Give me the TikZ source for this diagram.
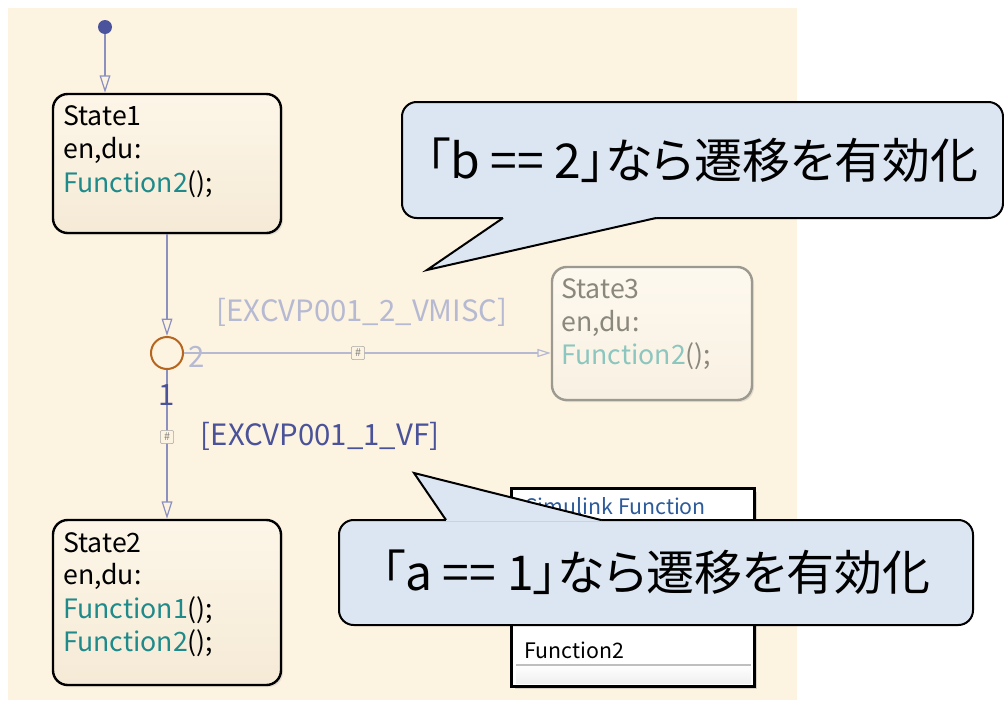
\documentclass[tikz,border=0pt]{standalone}
\usepackage{fontspec}
\setmainfont{Noto Sans CJK JP}
\usepackage{xcolor}
\usepackage{tikz}
\usetikzlibrary{arrows.meta}
\usetikzlibrary{shadows}
\definecolor{bgcream}{HTML}{FDF3E1}
\definecolor{sttop}{HTML}{FDF6E8}
\definecolor{stbot}{HTML}{F5EAD6}
\definecolor{fnteal}{HTML}{1F8A8A}
\definecolor{fnpale}{HTML}{8CC6BE}
\definecolor{stgray}{HTML}{8A877D}
\definecolor{trblue}{HTML}{8B90C0}
\definecolor{trpale}{HTML}{B6B9D2}
\definecolor{lbblue}{HTML}{4A5299}
\definecolor{jnorange}{HTML}{B5651D}
\definecolor{dotblue}{HTML}{4B539C}
\definecolor{callfill}{HTML}{DCE6F2}
\definecolor{sfblue}{HTML}{2D5A9A}

\begin{document}
\begin{tikzpicture}[x=0.75pt,y=-0.75pt,
		state/.style={draw=black,line width=1.8pt,rounded corners=11pt,top color=sttop,bottom color=stbot,
			drop shadow={opacity=0.2,shadow xshift=1.5pt,shadow yshift=-1.5pt},inner sep=0pt},
		stxt/.style={anchor=base west,inner sep=0pt,font=\fontsize{20}{24}\selectfont},
		trans/.style={trblue,line width=0.9pt,-{Triangle[open,length=13pt,width=8pt]}},
		hash/.style={draw=gray!70,fill=bgcream,rounded corners=1.5pt,minimum size=10pt,inner sep=0pt,
			font=\fontsize{8}{8}\selectfont,text=gray},
		glabel/.style={inner sep=0pt,font=\fontsize{22}{22}\selectfont},
		callout/.style={draw=black,line width=1.5pt,fill=callfill,rounded corners=11pt,
			font=\fontsize{36}{38}\selectfont\addfontfeatures{RawFeature=+palt}}]
		\def\fn#1#2{\textcolor{#1}{#2}}
		\useasboundingbox (0,0) rectangle (1004,704);
		\fill [bgcream] (8,8) rectangle (797,700);

		\node [circle,fill=dotblue,minimum size=10.5pt,inner sep=0pt] (init) at (105,27) {};
		\node [state,minimum width=171pt,minimum height=104.25pt] (s1) at (167,163.5) {};
		\node [state,minimum width=171pt,minimum height=123.75pt] (s2) at (167,602.5) {};
		\node [state,draw=stgray!85,top color=sttop!70!white,bottom color=stbot!70!white,minimum width=150pt,minimum height=99.75pt] (s3) at (652,333.5) {};
		\node [circle,draw=jnorange,line width=1.5pt,minimum size=24pt,inner sep=0pt] (j) at (167,353) {};

		\node [stxt] (s1a) at (63,125) {State1};
		\node [stxt] (s1b) at (63,158) {en,du:};
		\node [stxt] (s1c) at (63,192) {\fn{fnteal}{Function2}();};
		\node [stxt] (s2a) at (63,552) {State2};
		\node [stxt] (s2b) at (63,584) {en,du:};
		\node [stxt] (s2c) at (63,618) {\fn{fnteal}{Function1}();};
		\node [stxt] (s2d) at (63,651) {\fn{fnteal}{Function2}();};
		\node [stxt,text=stgray] (s3a) at (561,298) {State3};
		\node [stxt,text=stgray] (s3b) at (561,331) {en,du:};
		\node [stxt,text=stgray] (s3c) at (561,364) {\fn{fnpale}{Function2}();};

		\draw [trans] (init) -- (init |- s1.north);
		\draw [trans] (s1.south) -- (j.north);
		\draw [trans] (j.south) -- (s2.north);
		\draw [trans,trpale,-{Triangle[open,length=10pt,width=6pt]}] (j.east) -- (j.east -| s3.west);
		\node [hash] (h2) at (358,353) {\#};
		\node [hash] (h1) at (167,437) {\#};
		\node [glabel,text=trpale] (n2) at (197,357) {2};
		\node [glabel,text=lbblue] (n1) at (167,395) {1};
		\node [glabel,text=trpale] (g2) at (362,312) {[EXCVP001\_2\_VMISC]};
		\node [glabel,text=lbblue] (g1) at (320,436) {[EXCVP001\_1\_VF]};

		\node [fill=white,minimum width=181.5pt,minimum height=147.75pt,
			drop shadow={opacity=0.3,shadow xshift=2pt,shadow yshift=-2pt}] (sf) at (633,587.5) {};
		\draw [line width=2.5pt] (sf.north west) rectangle (sf.south east);
		\node [anchor=base west,inner sep=0pt,text=sfblue,font=\fontsize{16}{18}\selectfont] (sft) at (525,514) {Simulink Function};
		\node [anchor=base west,inner sep=0pt,font=\fontsize{16}{18}\selectfont] (sff) at (524,658) {Function2};
		\fill [top color=white,bottom color=gray!12] (516,665) rectangle (751,683);
		\draw [gray!50,line width=0.8pt] (516,665) -- (751,665);

		\node [callout,minimum width=450.75pt,minimum height=87pt] (c1) at (702.5,160) {「b == 2」なら遷移を有効化};
		\fill [callfill] (503,216.6) -- (503,218) -- (427,270) -- (656,218) -- (656,216.6) -- cycle;
		\draw [line width=1.5pt,line join=miter] (503,218) -- (427,270) -- (656,218);

		\node [callout,minimum width=475.5pt,minimum height=78.75pt] (c2) at (656,572.5) {「a == 1」なら遷移を有効化};
		\fill [callfill] (446,521.4) -- (446,520) -- (414,473) -- (601,520) -- (601,521.4) -- cycle;
		\draw [line width=1.5pt,line join=miter] (446,520) -- (414,473) -- (601,520);
	\end{tikzpicture}
\end{document}
